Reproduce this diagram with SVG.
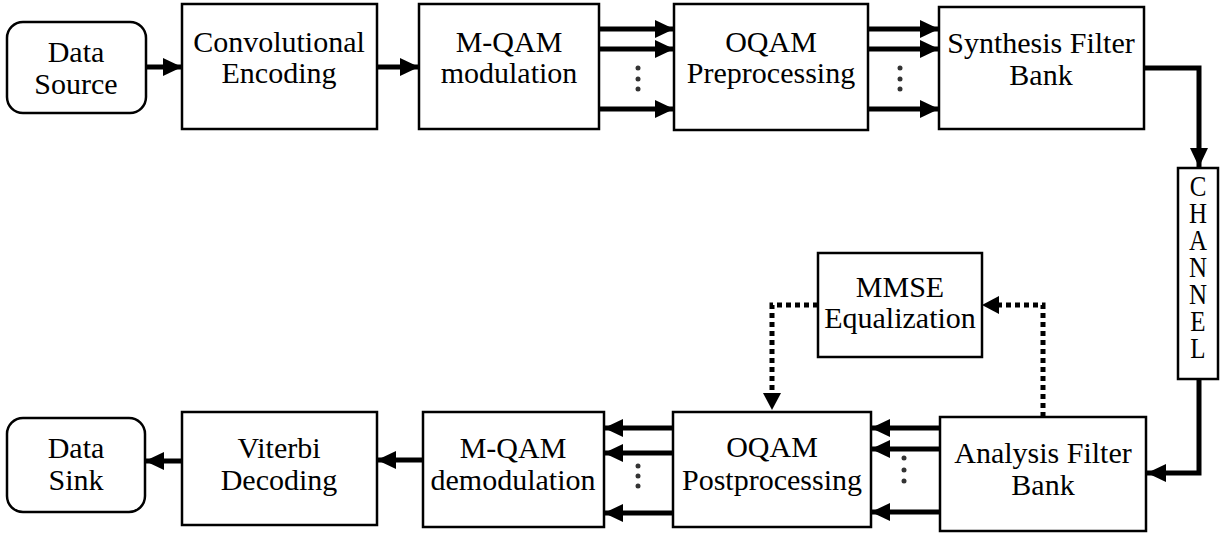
<svg xmlns="http://www.w3.org/2000/svg" width="1220" height="533" viewBox="0 0 1220 533">
<defs>
<style>
.box{fill:#fff;stroke:#000;stroke-width:2.5}
.t{font-size:30px;fill:#000;text-anchor:middle}
.c{font-size:25px;fill:#000}
.ln{fill:none;stroke:#000;stroke-width:5}
.dl{fill:none;stroke:#000;stroke-width:5;stroke-dasharray:5 4}
.dot{fill:#333}
</style>
<marker id="ah" markerUnits="userSpaceOnUse" markerWidth="19" markerHeight="18" refX="19" refY="9" orient="auto">
<path d="M0,0 L19,9 L0,18 z" fill="#000"/>
</marker>
</defs>
<rect width="1220" height="533" fill="#fff"/>

<g id="connectors">
<line class="ln" x1="146" y1="67" x2="182" y2="67" marker-end="url(#ah)"/>
<line class="ln" x1="377" y1="67" x2="419" y2="67" marker-end="url(#ah)"/>
<line class="ln" x1="599" y1="29" x2="674" y2="29" marker-end="url(#ah)"/>
<line class="ln" x1="599" y1="49" x2="674" y2="49" marker-end="url(#ah)"/>
<line class="ln" x1="599" y1="109" x2="674" y2="109" marker-end="url(#ah)"/>
<line class="ln" x1="868" y1="29" x2="939" y2="29" marker-end="url(#ah)"/>
<line class="ln" x1="868" y1="49" x2="939" y2="49" marker-end="url(#ah)"/>
<line class="ln" x1="868" y1="109" x2="939" y2="109" marker-end="url(#ah)"/>
<path class="ln" d="M1144,68 H1199 V167" marker-end="url(#ah)"/>
<path class="ln" d="M1199,379 V473 H1147" marker-end="url(#ah)"/>
<line class="ln" x1="940" y1="428" x2="871" y2="428" marker-end="url(#ah)"/>
<line class="ln" x1="940" y1="449" x2="871" y2="449" marker-end="url(#ah)"/>
<line class="ln" x1="940" y1="512" x2="871" y2="512" marker-end="url(#ah)"/>
<line class="ln" x1="673" y1="428" x2="604" y2="428" marker-end="url(#ah)"/>
<line class="ln" x1="673" y1="453" x2="604" y2="453" marker-end="url(#ah)"/>
<line class="ln" x1="673" y1="513" x2="604" y2="513" marker-end="url(#ah)"/>
<line class="ln" x1="423" y1="460" x2="377" y2="460" marker-end="url(#ah)"/>
<line class="ln" x1="182" y1="461" x2="145" y2="461" marker-end="url(#ah)"/>
<path class="dl" d="M1043,417 V305 H998"/>
<path d="M999,296 L982,305 L999,314 z" fill="#000"/>
<path class="dl" d="M818,305 H772 V394"/>
<path d="M763,393 L772,410 L781,393 z" fill="#000"/>
<circle class="dot" cx="638" cy="68" r="2.5"/><circle class="dot" cx="638" cy="79" r="2.5"/><circle class="dot" cx="638" cy="89" r="2.5"/>
<circle class="dot" cx="900" cy="68" r="2.5"/><circle class="dot" cx="900" cy="79" r="2.5"/><circle class="dot" cx="900" cy="89" r="2.5"/>
<circle class="dot" cx="904" cy="458" r="2.5"/><circle class="dot" cx="904" cy="470" r="2.5"/><circle class="dot" cx="904" cy="481" r="2.5"/>
<circle class="dot" cx="638" cy="466" r="2.5"/><circle class="dot" cx="638" cy="476" r="2.5"/><circle class="dot" cx="638" cy="486" r="2.5"/>
</g>

<g font-family="'Liberation Serif', 'Times New Roman', 'DejaVu Serif', serif">
<g id="data-source"><rect class="box" x="7" y="22" width="139" height="91" rx="16"/><text class="t" x="76" y="62">Data</text><text class="t" x="76" y="94">Source</text></g>
<g id="conv-encoding"><rect class="box" x="182" y="4" width="195" height="125"/><text class="t" x="279" y="52">Convolutional</text><text class="t" x="279" y="83">Encoding</text></g>
<g id="mqam-mod"><rect class="box" x="419" y="4" width="180" height="125"/><text class="t" x="509" y="52">M-QAM</text><text class="t" x="509" y="83">modulation</text></g>
<g id="oqam-pre"><rect class="box" x="674" y="4" width="194" height="126"/><text class="t" x="771" y="52">OQAM</text><text class="t" x="771" y="83">Preprocessing</text></g>
<g id="sfb"><rect class="box" x="939" y="7" width="205" height="122"/><text class="t" x="1041" y="53">Synthesis Filter</text><text class="t" x="1041" y="85">Bank</text></g>
<g id="channel"><rect class="box" x="1178" y="168" width="40" height="211"/>
<text class="c" transform="translate(1198,169) scale(1,1.2)" writing-mode="vertical-rl" style="text-orientation:upright" letter-spacing="-5.6" x="0" y="0">CHANNEL</text>
</g>
<g id="mmse"><rect class="box" x="818" y="253" width="164" height="104"/><text class="t" x="900" y="297">MMSE</text><text class="t" x="900" y="328">Equalization</text></g>
<g id="afb"><rect class="box" x="940" y="417" width="206" height="114"/><text class="t" x="1043" y="463">Analysis Filter</text><text class="t" x="1043" y="495">Bank</text></g>
<g id="oqam-post"><rect class="box" x="673" y="412" width="198" height="115"/><text class="t" x="772" y="457">OQAM</text><text class="t" x="772" y="490">Postprocessing</text></g>
<g id="mqam-demod"><rect class="box" x="423" y="412" width="181" height="115"/><text class="t" x="513" y="458">M-QAM</text><text class="t" x="513" y="490">demodulation</text></g>
<g id="viterbi"><rect class="box" x="182" y="412" width="195" height="113"/><text class="t" x="279" y="458">Viterbi</text><text class="t" x="279" y="490">Decoding</text></g>
<g id="data-sink"><rect class="box" x="7" y="418" width="138" height="94" rx="16"/><text class="t" x="76" y="458">Data</text><text class="t" x="76" y="490">Sink</text></g>
</g>
</svg>
